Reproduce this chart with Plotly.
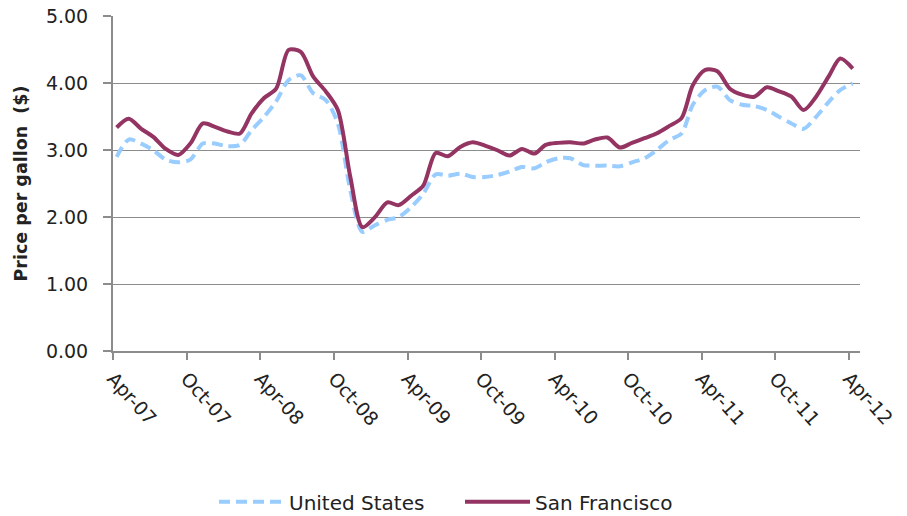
import pandas as pd
import plotly.graph_objects as go

months = pd.date_range("2007-04-01", periods=61, freq="MS") + pd.Timedelta(days=9)

us_prices = [2.90, 3.16, 3.10, 3.00, 2.86, 2.82, 2.86, 3.10, 3.10, 3.06,
             3.08, 3.30, 3.50, 3.73, 4.05, 4.12, 3.85, 3.75, 3.40, 2.40,
             1.78, 1.88, 1.96, 2.00, 2.15, 2.35, 2.64, 2.62, 2.65, 2.60,
             2.60, 2.63, 2.68, 2.75, 2.73, 2.82, 2.88, 2.88, 2.78, 2.77,
             2.77, 2.76, 2.82, 2.88, 3.00, 3.15, 3.25, 3.68, 3.90, 3.95,
             3.75, 3.68, 3.66, 3.60, 3.50, 3.40, 3.32, 3.50, 3.72, 3.90,
             4.00]

sf_prices = [3.34, 3.47, 3.32, 3.20, 3.02, 2.93, 3.10, 3.40, 3.35, 3.28,
             3.25, 3.55, 3.78, 3.92, 4.50, 4.47, 4.10, 3.88, 3.60, 2.60,
             1.85, 2.00, 2.22, 2.18, 2.32, 2.47, 2.96, 2.91, 3.05, 3.12,
             3.07, 3.00, 2.92, 3.02, 2.95, 3.08, 3.11, 3.12, 3.10, 3.16,
             3.19, 3.04, 3.11, 3.18, 3.25, 3.36, 3.48, 3.97, 4.20, 4.18,
             3.92, 3.83, 3.80, 3.94, 3.88, 3.80, 3.60, 3.80, 4.10, 4.37,
             4.22]

tick_dates = pd.date_range("2007-04-01", "2012-04-01", freq="6MS")
tick_labels = [d.strftime("%b-%y") for d in tick_dates]
y_ticks = [0, 1, 2, 3, 4, 5]

fig = go.Figure()
fig.add_trace(go.Scatter(
    x=months, y=us_prices, mode="lines", name="United States",
    line=dict(color="#99CCFF", width=4, dash="11px,6px", shape="spline", smoothing=0.8),
))
fig.add_trace(go.Scatter(
    x=months, y=sf_prices, mode="lines", name="San Francisco",
    line=dict(color="#943462", width=4, shape="spline", smoothing=0.8),
))

font_family = "DejaVu Sans"
fig.update_layout(
    width=907, height=516,
    margin=dict(l=113, r=47, t=16, b=165, autoexpand=False),
    paper_bgcolor="white", plot_bgcolor="white",
    font=dict(family=font_family, size=16, color="#222"),
    showlegend=True,
    legend=dict(orientation="h", x=(214 - 113) / 747, xanchor="left", y=-0.45, yanchor="middle",
                font=dict(size=20, color="#222"), itemwidth=65, entrywidth=166,
                entrywidthmode="pixels", traceorder="normal"),
    xaxis=dict(
        type="date", range=["2007-04-01", "2012-04-28"],
        tickvals=tick_dates, ticktext=tick_labels, tickangle=48,
        showgrid=False, showline=True, linecolor="#8c8c8c", linewidth=2,
        ticks="outside", ticklen=7, tickcolor="#8c8c8c", tickwidth=2,
        tickfont=dict(size=19, color="#222"), zeroline=False, automargin=False,
    ),
    yaxis=dict(
        range=[0, 5.006], tickvals=y_ticks, tickformat=".2f",
        showgrid=True, gridcolor="#8c8c8c", gridwidth=1.3,
        showline=True, linecolor="#8c8c8c", linewidth=2,
        ticks="outside", ticklen=8, tickcolor="#8c8c8c", tickwidth=2,
        ticklabelstandoff=11, ticklabeloverflow="allow",
        tickfont=dict(size=19, color="#222"), zeroline=False, automargin=False,
        title=dict(text="<b>Price per gallon  ($)</b>", font=dict(size=17.5, color="#222"), standoff=14),
    ),
)

fig.write_html("out.html", config={"displayModeBar": False},
               post_script="document.body.style.margin='0';")
